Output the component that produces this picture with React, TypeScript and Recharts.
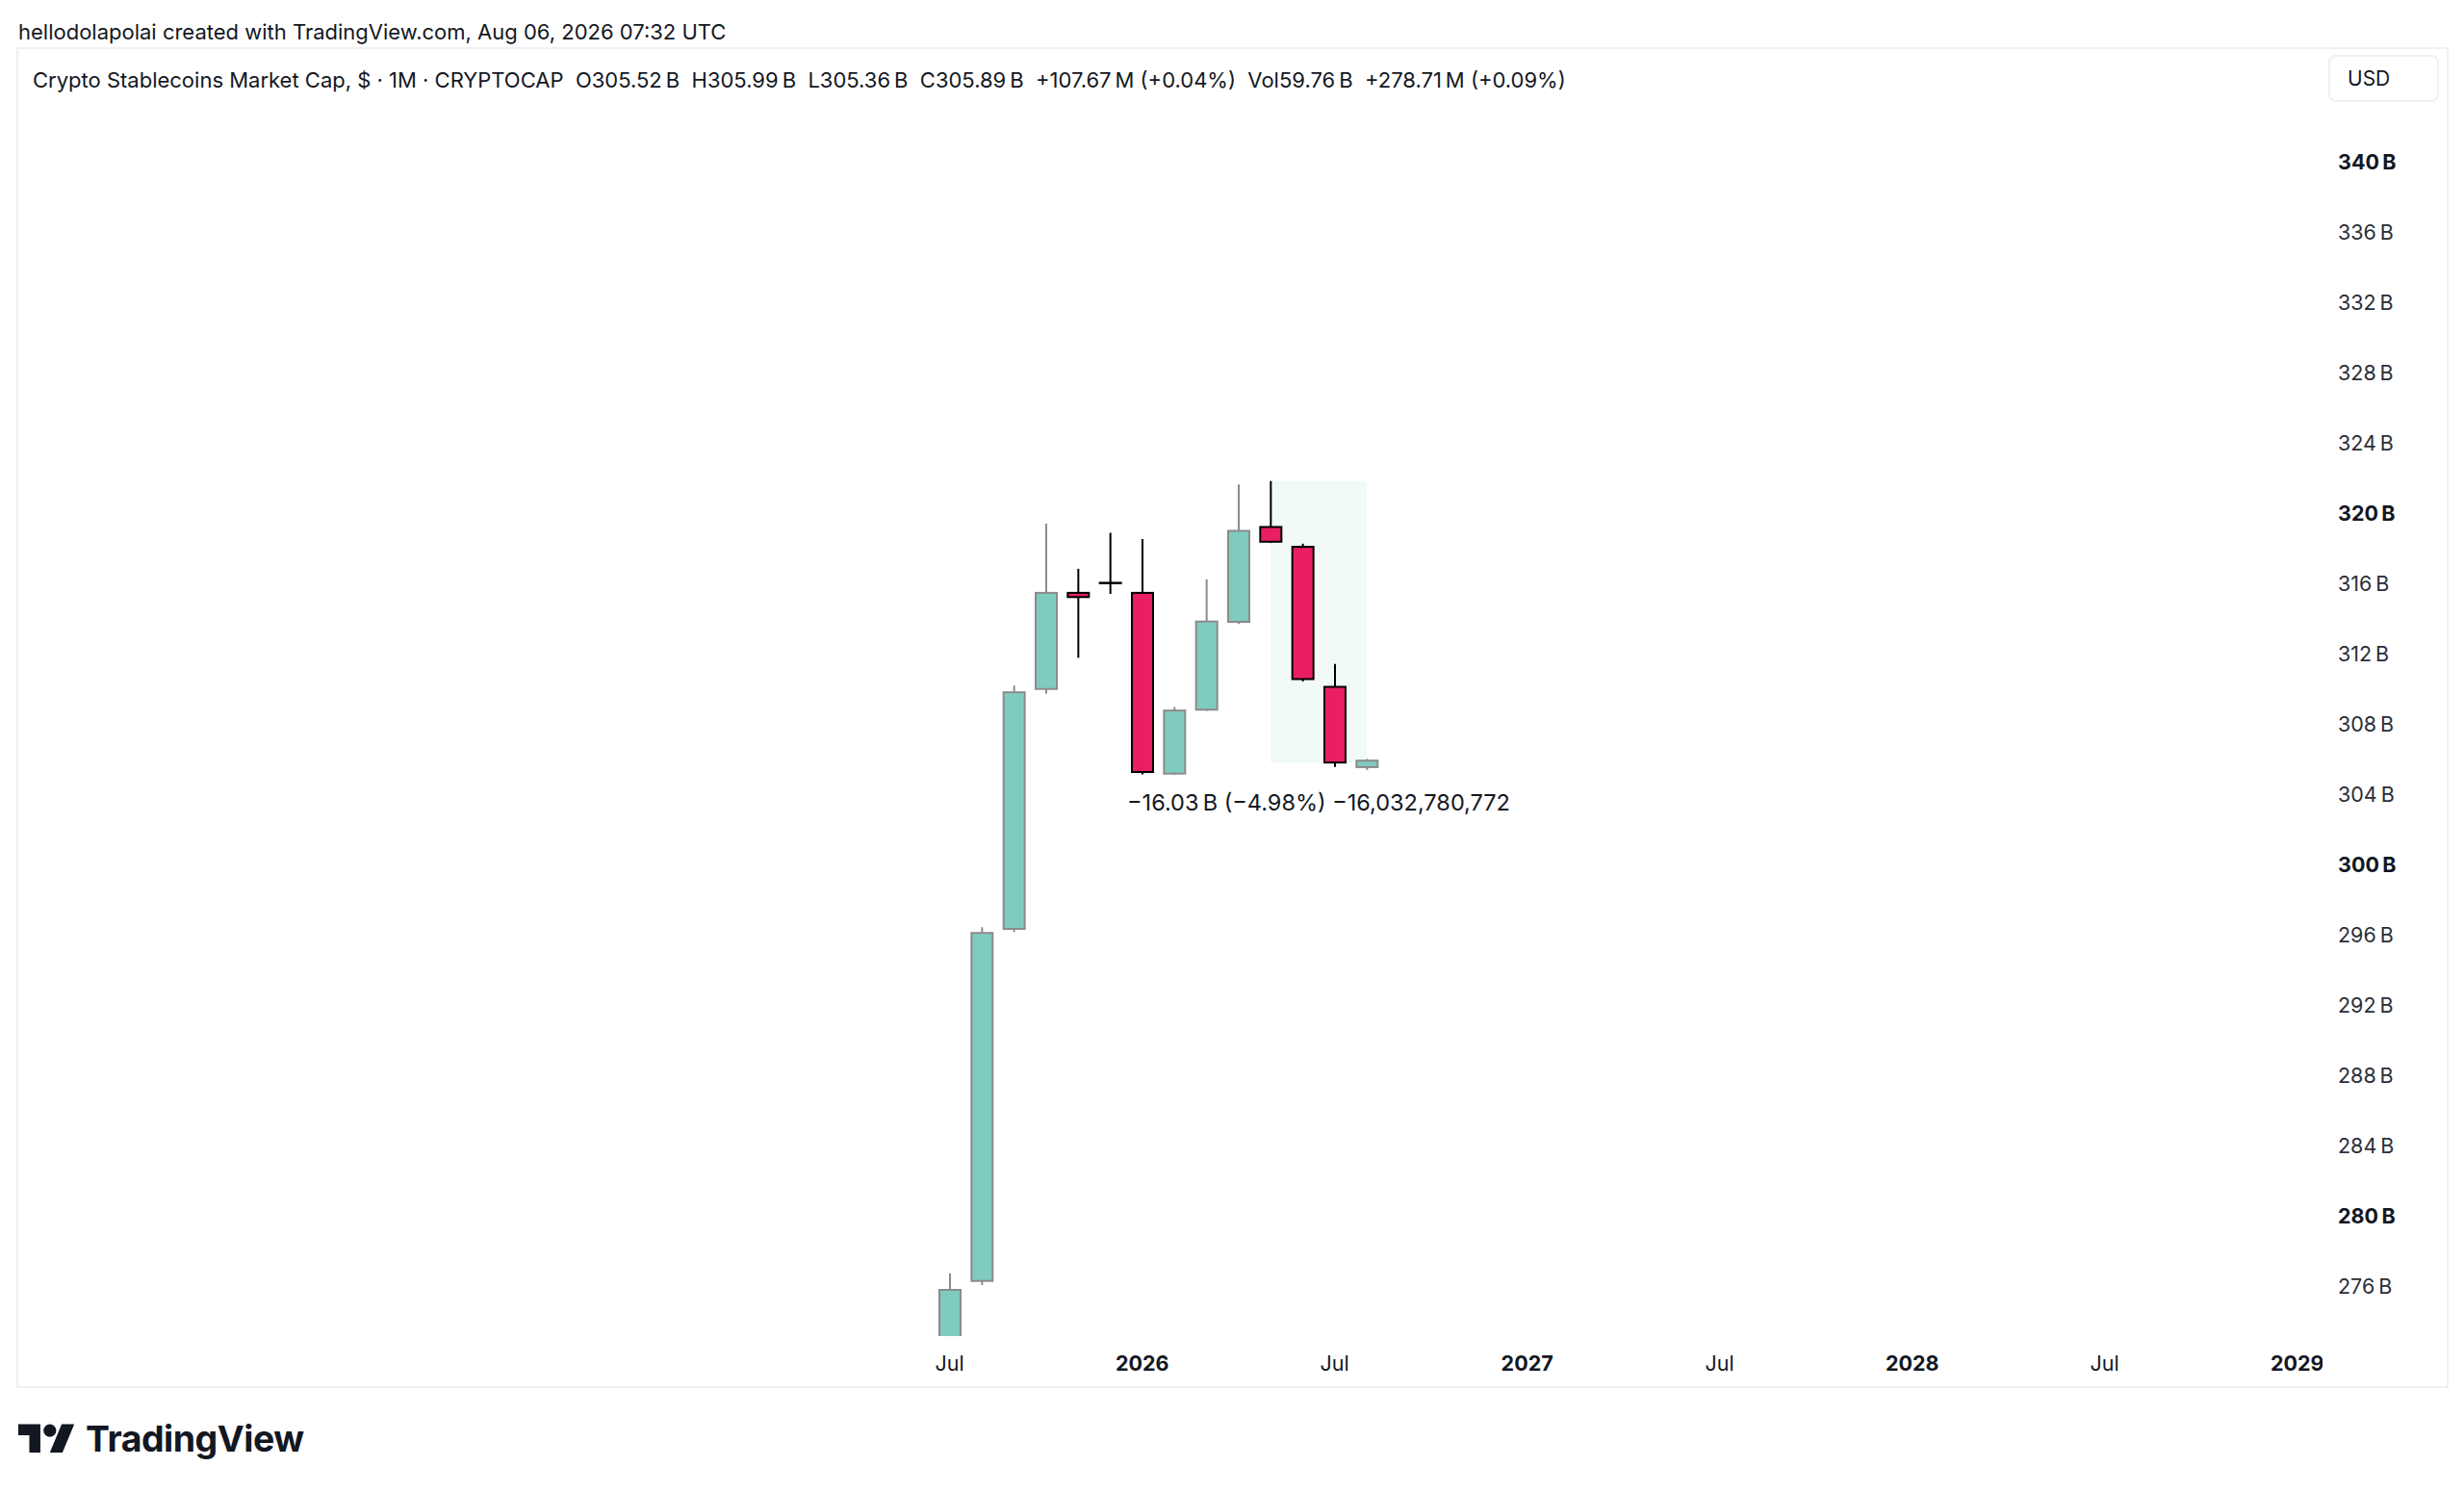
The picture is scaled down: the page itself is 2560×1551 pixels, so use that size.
import React from "react";
import {
  Bar,
  ComposedChart,
  ReferenceArea,
  XAxis,
  YAxis,
} from "recharts";

// monthly candles, Jul 2025 .. Aug 2026 (values in billions USD)
const months = [
  "Jul 2025", "Aug 2025", "Sep 2025", "Oct 2025", "Nov 2025", "Dec 2025", "Jan 2026",
  "Feb 2026", "Mar 2026", "Apr 2026", "May 2026", "Jun 2026", "Jul 2026", "Aug 2026",
];
const opens = [262.0, 276.27, 296.31, 309.97, 315.44, 316.0, 315.44, 305.15, 308.79, 313.79, 319.19, 318.06, 310.09, 305.52];
const highs = [276.71, 296.41, 310.16, 319.38, 316.81, 318.86, 318.5, 308.94, 316.21, 321.61, 321.81, 318.24, 311.39, 305.99];
const lows = [261.5, 276.03, 296.13, 309.71, 311.74, 315.38, 305.1, 305.1, 308.72, 313.67, 318.28, 310.4, 305.53, 305.36];
const closes = [275.76, 296.08, 309.78, 315.44, 315.2, 315.95, 305.24, 308.74, 313.81, 318.97, 318.35, 310.53, 305.78, 305.89];

const priceTicks = [276, 280, 284, 288, 292, 296, 300, 304, 308, 312, 316, 320, 324, 328, 332, 336, 340];
const boldPrices = [280, 300, 320, 340];

// month offsets from Jul 2025 and their labels
const timeTicks = [0, 6, 12, 18, 24, 30, 36, 42];
const timeLabels = ["Jul", "2026", "Jul", "2027", "Jul", "2028", "Jul", "2029"];
const boldTimes = ["2026", "2027", "2028", "2029"];

// price range measurement: May 2026 high -> Jul 2026 close
const rangeFrom = 10;
const rangeTo = 13;
const rangeHigh = 321.81;
const rangeLow = 305.78;
const rangeLabel = "\u221216.03\u2009B (\u22124.98%) \u221216,032,780,772";

const candles = months.map((month, i) => ({
  month,
  i,
  open: opens[i],
  high: highs[i],
  low: lows[i],
  close: closes[i],
}));

const FONT = "Inter, 'Noto Sans', sans-serif";
const TEXT = "#131722";
const CHART_W = 2522;
const CHART_H = 1388;
const AXIS_W = 127;
const PLOT_W = CHART_W - AXIS_W;

function Candle(props: any) {
  const { x, y, width, height, payload } = props;
  if (x == null || y == null || !payload) return null;
  const { open, high, low, close } = payload;
  const k = height / (high - low || 1);
  const yOf = (v: number) => y + (high - v) * k;
  const cx = x + width / 2;
  const up = close >= open;
  const edge = up ? "#8b8b8b" : "#000000";
  const fill = up ? "#7fcbbf" : "#e91e63";
  const top = yOf(Math.max(open, close));
  const bottom = yOf(Math.min(open, close));
  const bodyH = bottom - top;
  const bw = 22;

  return (
    <g>
      <line x1={cx} x2={cx} y1={y} y2={y + height} stroke={edge} strokeWidth={2} />
      {bodyH < 2 ? (
        <line x1={cx - bw / 2 - 1} x2={cx + bw / 2 + 1} y1={top} y2={top} stroke={edge} strokeWidth={2.5} />
      ) : (
        <rect x={cx - bw / 2} y={top} width={bw} height={bodyH} fill={fill} stroke={edge} strokeWidth={2} />
      )}
    </g>
  );
}

function PriceTick(props: any) {
  const { x, y, payload } = props;
  const bold = boldPrices.includes(payload.value);
  return (
    <text
      x={x}
      y={y}
      dy="0.4em"
      textAnchor="start"
      fontFamily={FONT}
      fontSize={21.5}
      fontWeight={bold ? 700 : 400}
      fill={bold ? TEXT : "#2a2e39"}
    >
      {`${payload.value}\u2009B`}
    </text>
  );
}

function TimeTick(props: any) {
  const { x, y, payload } = props;
  const label = timeLabels[timeTicks.indexOf(payload.value)] ?? "";
  const bold = boldTimes.includes(label);
  return (
    <text
      x={x}
      y={y}
      dy="0.35em"
      textAnchor="middle"
      fontFamily={FONT}
      fontSize={21.5}
      fontWeight={bold ? 700 : 400}
      fill={TEXT}
      clipPath="url(#timeTickClip)"
    >
      {label}
    </text>
  );
}

function TradingViewLogo() {
  return (
    <svg width={59} height={46} viewBox="0 0 36 28" style={{ position: "absolute", left: 19, top: 1473 }}>
      <path d="M14 22H7V11H0V4h14v18zM28 22h-8l7.5-18h8L28 22z" fill="#131722" />
      <circle cx="20" cy="8" r="4" fill="#131722" />
    </svg>
  );
}

export default function App() {
  return (
    <div
      style={{
        position: "absolute",
        left: 0,
        top: 0,
        width: 2560,
        height: 1551,
        background: "#ffffff",
        fontFamily: FONT,
        color: TEXT,
        overflow: "hidden",
      }}
    >
      <div style={{ position: "absolute", left: 19, top: 19, fontSize: 22, lineHeight: "28px" }}>
        hellodolapolai created with TradingView.com, Aug 06, 2026 07:32 UTC
      </div>

      <div
        style={{
          position: "absolute",
          left: 17,
          top: 49,
          width: 2523,
          height: 1389,
          border: "2px solid #eef0f3",
        }}
      />

      <div
        style={{
          position: "absolute",
          left: 34,
          top: 69,
          fontSize: 22,
          lineHeight: "28px",
          whiteSpace: "pre",
        }}
      >
        {"Crypto Stablecoins Market Cap, $ \u00b7 1M \u00b7 CRYPTOCAP  O305.52\u2009B  H305.99\u2009B  L305.36\u2009B  C305.89\u2009B  +107.67\u2009M (+0.04%)  Vol59.76\u2009B  +278.71\u2009M (+0.09%)"}
      </div>

      <div
        style={{
          position: "absolute",
          left: 2419,
          top: 57,
          width: 93,
          height: 45,
          border: "2px solid #eef0f3",
          borderRadius: 8,
          fontSize: 21,
          lineHeight: "45px",
          paddingLeft: 18,
          boxSizing: "content-box",
        }}
      >
        USD
      </div>

      <div style={{ position: "absolute", left: 18, top: 52 }}>
        <ComposedChart
          width={CHART_W}
          height={CHART_H}
          data={candles}
          margin={{ top: 0, right: 0, bottom: 0, left: 0 }}
        >
          <defs>
            <clipPath id="timeTickClip">
              <rect x={0} y={0} width={PLOT_W} height={CHART_H} />
            </clipPath>
          </defs>
          <XAxis
            dataKey="i"
            type="number"
            domain={[-29.06, 42.79]}
            allowDataOverflow
            ticks={timeTicks}
            interval={0}
            axisLine={false}
            tickLine={false}
            tickSize={0}
            tickMargin={28}
            height={52}
            tick={<TimeTick />}
          />
          <YAxis
            orientation="right"
            type="number"
            domain={[273.13, 346.34]}
            allowDataOverflow
            ticks={priceTicks}
            interval={0}
            axisLine={false}
            tickLine={false}
            tickSize={0}
            tickMargin={16}
            width={AXIS_W}
            tick={<PriceTick />}
          />
          <ReferenceArea
            x1={rangeFrom}
            x2={rangeTo}
            y1={rangeLow}
            y2={rangeHigh}
            fill="#e3f4f3"
            fillOpacity={0.5}
            stroke="none"
            label={{
              value: rangeLabel,
              position: "bottom",
              offset: 33,
              fontFamily: FONT,
              fontSize: 23.5,
              fill: TEXT,
            }}
          />
          <Bar
            dataKey={(d: any) => [d.low, d.high]}
            barSize={24}
            shape={<Candle />}
            isAnimationActive={false}
          />
        </ComposedChart>
      </div>

      <TradingViewLogo />
      <div
        style={{
          position: "absolute",
          left: 89,
          top: 1472,
          fontSize: 37.5,
          fontWeight: 700,
          lineHeight: "46px",
          letterSpacing: -0.5,
        }}
      >
        TradingView
      </div>
    </div>
  );
}
